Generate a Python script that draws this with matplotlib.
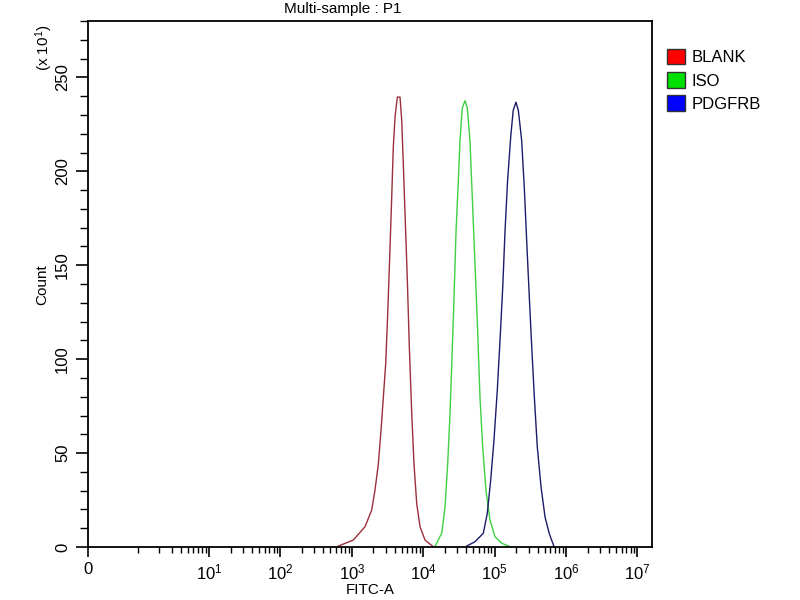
import matplotlib
matplotlib.use("Agg")
import matplotlib.pyplot as plt
from matplotlib.patches import Patch
import numpy as np

FONT = ['Liberation Sans Narrow', 'Liberation Sans', 'DejaVu Sans']
plt.rcParams['font.family'] = FONT
plt.rcParams['mathtext.fontset'] = 'custom'
plt.rcParams['mathtext.rm'] = 'Liberation Sans'
plt.rcParams['mathtext.it'] = 'Liberation Sans:italic'
plt.rcParams['mathtext.bf'] = 'Liberation Sans:bold'

title = "Multi-sample : P1"
series_names = ["BLANK", "ISO", "PDGFRB"]
line_colors = ["#9c2f3c", "#3fcf3f", "#1c1c6a"]
legend_colors = ["#ff0000", "#00e000", "#0000ff"]

blank_x = [647, 1050, 1530, 1900, 2110, 2350, 2560, 2760, 2980, 3180, 3430, 3620,
           3810, 4030, 4340, 4730, 5000, 5260, 5560, 5990, 6390, 6900, 7430, 8110,
           9020, 10600, 13800]
blank_y = [0.5, 3.7, 10.8, 19.7, 30.3, 44.1, 61.7, 79.5, 97.4, 124, 159.7, 186.3,
           212.9, 228.9, 239.5, 239.5, 227, 204, 177.7, 142, 106.4, 71.3, 44.1, 23,
           10.8, 3.7, 0.2]

iso_x = [14600, 18200, 20200, 22000, 23700, 25100, 27000, 28800, 31000, 32700, 35200,
         38500, 41400, 45200, 48700, 53100, 57900, 62400, 68100, 75700, 86100, 101000,
         125600, 164000]
iso_y = [0.2, 7.5, 21.4, 44.1, 70.7, 97.3, 132.6, 168, 194.7, 216, 233.7,
         237.6, 233.7, 216, 185.8, 150.5, 114.9, 79.4, 53, 30, 14.4, 5.5,
         2, 0.2]

pdg_x = [40600, 53100, 69400, 78900, 88100, 97900, 109000, 119000, 130000, 140000,
         152000, 168000, 182000, 199000, 215000, 239000, 260000, 281000, 306000,
         331000, 360000, 396000, 447000, 508000, 583000, 679000]
pdg_y = [0.5, 2.8, 7.3, 17.9, 35.6, 56.9, 83.5, 110, 138.5, 168.6,
         195.2, 218.3, 232.4, 236.8, 232.4, 216.5, 191.7, 163.3, 133.1,
         106.4, 79.8, 53.2, 31.9, 16, 7.1, 0.2]

x_major = [0, 1e1, 1e2, 1e3, 1e4, 1e5, 1e6, 1e7]
x_major_labels = ["0"] + [r"$\mathregular{10^{%d}}$" % k for k in range(1, 8)]
y_major = [0, 50, 100, 150, 200, 250]

FS = 11

fig = plt.figure(figsize=(8, 6), dpi=100)
ax = fig.add_axes([88/800, 53/600, 564/800, 526/600])

for xs, ys, c in zip([blank_x, iso_x, pdg_x], [blank_y, iso_y, pdg_y], line_colors):
    ax.plot(xs, ys, color=c, lw=1.0)

ax.set_xscale('symlog', linthresh=1, linscale=0.6255)
ax.set_xlim(0, 1.6e7)
ax.set_ylim(0, 280)

ax.set_xticks(x_major)
ax.set_xticklabels(x_major_labels)
minor = [1.0] + [m * 10**k for k in range(0, 7) for m in range(2, 10)]
ax.set_xticks(minor, minor=True)
ax.set_yticks(y_major)
ax.set_yticks(np.arange(0, 281, 10), minor=True)

for s in ax.spines.values():
    s.set_linewidth(1.3)
    s.set_color('black')

ax.tick_params(axis='x', which='major', length=7, width=1.2, direction='out',
               labelsize=FS + 1, pad=4)
ax.tick_params(axis='x', which='minor', length=4, width=1.0, direction='out')
ax.tick_params(axis='y', which='major', length=9, width=1.2, direction='out',
               labelsize=FS + 1, pad=4, labelrotation=90)
ax.tick_params(axis='y', which='minor', length=5.5, width=1.0, direction='out')
for lab in ax.get_yticklabels():
    lab.set_va('center')

fig.text(343/800, 1 - 9/600, title, ha='center', va='center', fontsize=FS)
fig.text(370/800, 1 - 590/600, "FITC-A", ha='center', va='center', fontsize=FS)
fig.text(42/800, 1 - 285/600, "Count", ha='center', va='center', rotation=90, fontsize=FS)
fig.text(44/800, 1 - 48/600, r"(x 10$\mathregular{^{1}}$)", ha='center', va='center',
         rotation=90, fontsize=FS)

handles = [Patch(facecolor=fc, edgecolor='#333333', lw=1.0) for fc in legend_colors]
fig.legend(handles, series_names, loc='upper left', bbox_to_anchor=(667/800, 1 - 49/600),
           frameon=False, fontsize=FS + 1, handlelength=1.05, handleheight=1.05,
           handletextpad=0.4, labelspacing=0.4, borderaxespad=0, borderpad=0)

fig.savefig("out.png", dpi=100)
